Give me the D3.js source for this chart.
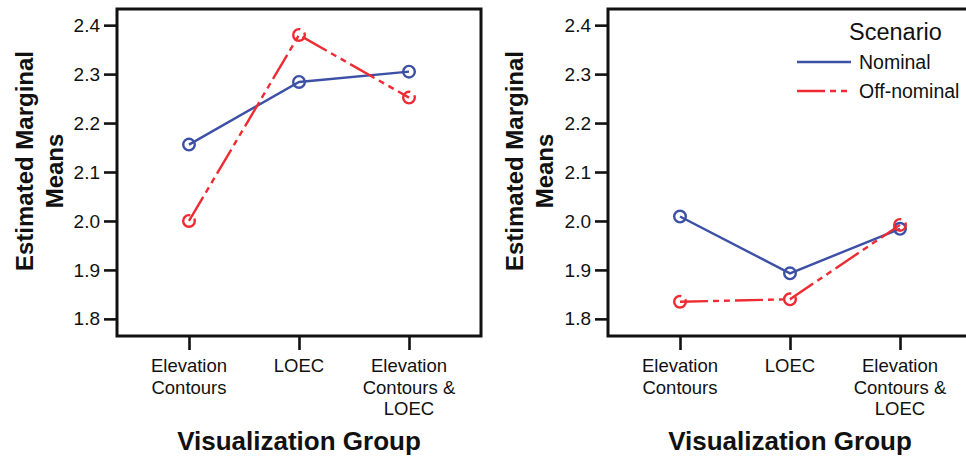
<!DOCTYPE html>
<html>
<head>
<meta charset="utf-8">
<script src="https://cdn.jsdelivr.net/npm/d3@7"></script>
<style>
  html, body { margin: 0; padding: 0; background: #fff; }
  svg { display: block; font-family: "Liberation Sans", Arial, sans-serif; }
</style>
</head>
<body>
<svg id="chart" width="966" height="457"></svg>
<script>
// ---- data ----
const categories = ["Elevation Contours", "LOEC", "Elevation Contours & LOEC"];
const categoryLines = [["Elevation", "Contours"], ["LOEC"], ["Elevation", "Contours &", "LOEC"]];
const seriesNames = ["Nominal", "Off-nominal"];
const leftNominal = [2.156, 2.284, 2.305];
const leftOffNominal = [2.000, 2.380, 2.252];
const rightNominal = [2.009, 1.893, 1.984];
const rightOffNominal = [1.835, 1.840, 1.992];
const yTicks = [1.8, 1.9, 2.0, 2.1, 2.2, 2.3, 2.4];
const yDomain = [1.765, 2.433];

const colors = { "Nominal": "#3c50a6", "Off-nominal": "#ee2b33" };
const dashes = { "Nominal": null, "Off-nominal": "28,5,6,5,6,5" };

const svg = d3.select("#chart");

function panel(x0, x1, nominal, offNominal, titleX1, titleX2) {
  const y0 = 9, y1 = 336;
  const g = svg.append("g");
  const x = d3.scalePoint().domain(categories).range([x0, x1]).padding(0.6545);
  const y = d3.scaleLinear().domain(yDomain).range([y1, y0]);

  // frame
  g.append("rect").attr("x", x0).attr("y", y0).attr("width", x1 - x0).attr("height", y1 - y0)
    .attr("fill", "none").attr("stroke", "#111").attr("stroke-width", 3);

  // y axis
  const ya = g.append("g").attr("transform", `translate(${x0},0)`)
    .call(d3.axisLeft(y).tickValues(yTicks).tickFormat(d3.format(".1f")).tickSize(13).tickPadding(4));
  ya.select(".domain").remove();
  ya.selectAll(".tick line").attr("stroke", "#111").attr("stroke-width", 2.6);
  ya.selectAll(".tick text").attr("font-size", 19).attr("fill", "#111")
    .attr("font-family", "Liberation Sans, Arial, sans-serif");

  // x axis
  const xa = g.append("g").attr("transform", `translate(0,${y1})`)
    .call(d3.axisBottom(x).tickSize(14).tickFormat(""));
  xa.select(".domain").remove();
  xa.selectAll(".tick line").attr("stroke", "#111").attr("stroke-width", 2.6);
  categories.forEach((c, i) => {
    const t = g.append("text").attr("text-anchor", "middle").attr("font-size", 18.5).attr("fill", "#111");
    categoryLines[i].forEach((ln, j) => {
      t.append("tspan").attr("x", x(c)).attr("y", 372 + j * 21.7).text(ln);
    });
  });

  // series
  const data = [
    { name: "Nominal", values: nominal },
    { name: "Off-nominal", values: offNominal }
  ];
  const line = d3.line().x((d, i) => x(categories[i])).y(d => y(d));
  data.forEach(s => {
    g.append("path").datum(s.values).attr("d", line)
      .attr("fill", "none").attr("stroke", colors[s.name]).attr("stroke-width", 2.4)
      .attr("stroke-dasharray", dashes[s.name]);
    g.selectAll(null).data(s.values).enter().append("circle")
      .attr("cx", (d, i) => x(categories[i])).attr("cy", d => y(d)).attr("r", 5.8)
      .attr("fill", "none").attr("stroke", colors[s.name]).attr("stroke-width", 2.4)
      .attr("stroke-dasharray", dashes[s.name]);
  });

  // axis titles
  g.append("text").attr("x", (x0 + x1) / 2).attr("y", 450).attr("text-anchor", "middle")
    .attr("font-size", 26).attr("font-weight", "bold").attr("fill", "#111").text("Visualization Group");
  g.append("text").attr("transform", `translate(${titleX1},161) rotate(-90)`).attr("text-anchor", "middle")
    .attr("font-size", 24).attr("font-weight", "bold").attr("fill", "#111").text("Estimated Marginal");
  g.append("text").attr("transform", `translate(${titleX2},171) rotate(-90)`).attr("text-anchor", "middle")
    .attr("font-size", 24).attr("font-weight", "bold").attr("fill", "#111").text("Means");
}

panel(117, 481, leftNominal, leftOffNominal, 33, 63);
panel(608, 972, rightNominal, rightOffNominal, 523, 553);

// legend
const lg = svg.append("g");
lg.append("text").attr("x", 849).attr("y", 40).attr("font-size", 23.5).attr("fill", "#111").text("Scenario");
seriesNames.forEach((n, i) => {
  const yy = 62 + i * 29;
  lg.append("line").attr("x1", 797).attr("x2", 851).attr("y1", yy).attr("y2", yy)
    .attr("stroke", colors[n]).attr("stroke-width", 2.4).attr("stroke-dasharray", dashes[n]);
  lg.append("text").attr("x", 859).attr("y", yy + 6.5).attr("font-size", 19.5).attr("fill", "#111").text(n);
});
</script>
</body>
</html>
